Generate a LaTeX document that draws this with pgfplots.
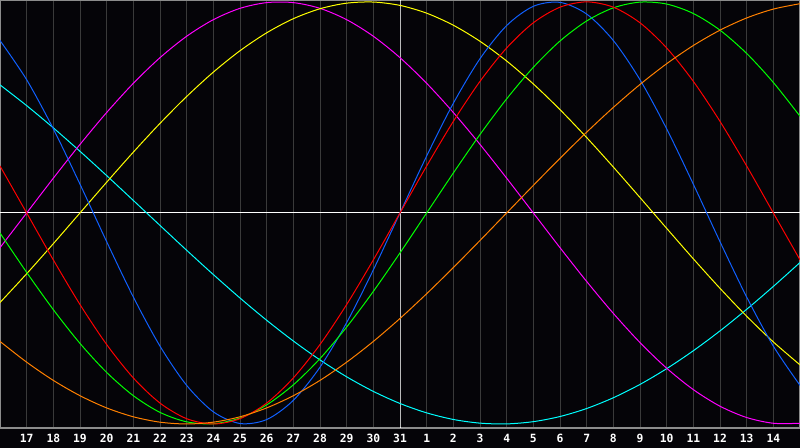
\documentclass[border=0pt]{standalone}
\usepackage{fontspec}
\setmonofont{DejaVu Sans Mono}
\usepackage{pgfplots}
\usepackage{pgfplotstable}
\pgfplotsset{compat=1.18}
\definecolor{bgc}{RGB}{5,4,8}
\definecolor{gridc}{RGB}{58,58,58}
\definecolor{borderc}{RGB}{140,140,140}
\definecolor{cblue}{RGB}{16,96,255}
\definecolor{cred}{RGB}{255,0,0}
\definecolor{cgreen}{RGB}{0,255,0}
\definecolor{cmag}{RGB}{255,0,255}
\definecolor{cyel}{RGB}{255,255,0}
\definecolor{corange}{RGB}{255,128,0}
\definecolor{ccyan}{RGB}{0,255,255}
\pgfplotstableread{
i  blue    red     green   mag     yel     orange  cyan
0  0.8170  0.2225 -0.0951 -0.1646 -0.4245 -0.6088  0.6068
1  0.6311  0.0000 -0.2817  0.0000 -0.2881 -0.7071  0.5085
2  0.3984 -0.2225 -0.4582  0.1646 -0.1456 -0.7934  0.4031
3  0.1362 -0.4339 -0.6182  0.3247  0.0000 -0.8660  0.2920
4 -0.1362 -0.6235 -0.7557  0.4759  0.1456 -0.9239  0.1769
5 -0.3984 -0.7818 -0.8660  0.6142  0.2881 -0.9659  0.0592
6 -0.6311 -0.9010 -0.9450  0.7357  0.4245 -0.9914 -0.0592
7 -0.8170 -0.9749 -0.9898  0.8372  0.5517 -1.0000 -0.1769
8 -0.9423 -1.0000 -0.9989  0.9158  0.6672 -0.9914 -0.2920
9 -0.9977 -0.9749 -0.9718  0.9694  0.7686 -0.9659 -0.4031
10 -0.9791 -0.9010 -0.9096  0.9966  0.8535 -0.9239 -0.5085
11 -0.8879 -0.7818 -0.8146  0.9966  0.9204 -0.8660 -0.6068
12 -0.7308 -0.6235 -0.6901  0.9694  0.9675 -0.7934 -0.6965
13 -0.5196 -0.4339 -0.5406  0.9158  0.9940 -0.7071 -0.7765
14 -0.2698 -0.2225 -0.3717  0.8372  0.9993 -0.6088 -0.8456
15  0.0000  0.0000 -0.1893  0.7357  0.9834 -0.5000 -0.9028
16  0.2698  0.2225  0.0000  0.6142  0.9465 -0.3827 -0.9473
17  0.5196  0.4339  0.1893  0.4759  0.8894 -0.2588 -0.9786
18  0.7308  0.6235  0.3717  0.3247  0.8133 -0.1305 -0.9960
19  0.8879  0.7818  0.5406  0.1646  0.7199  0.0000 -0.9996
20  0.9791  0.9010  0.6901  0.0000  0.6112  0.1305 -0.9890
21  0.9977  0.9749  0.8146 -0.1646  0.4894  0.2588 -0.9646
22  0.9423  1.0000  0.9096 -0.3247  0.3572  0.3827 -0.9267
23  0.8170  0.9749  0.9718 -0.4759  0.2174  0.5000 -0.8757
24  0.6311  0.9010  0.9989 -0.6142  0.0730  0.6088 -0.8125
25  0.3984  0.7818  0.9898 -0.7357 -0.0730  0.7071 -0.7378
26  0.1362  0.6235  0.9450 -0.8372 -0.2174  0.7934 -0.6529
27 -0.1362  0.4339  0.8660 -0.9158 -0.3572  0.8660 -0.5589
28 -0.3984  0.2225  0.7557 -0.9694 -0.4894  0.9239 -0.4567
29 -0.6311  0.0000  0.6182 -0.9966 -0.6112  0.9659 -0.3482
30 -0.8170 -0.2225  0.4582 -0.9966 -0.7199  0.9914 -0.2349
}\bio
\begin{document}
\begin{tikzpicture}
\fill[bgc] (0,-15pt) rectangle (600pt,321pt);
\path[use as bounding box] (0,-15pt) rectangle (600pt,321pt);
\begin{axis}[
  at={(0,0)}, anchor=south west,
  scale only axis, width=600pt, height=321pt,
  xmin=0, xmax=30, ymin=-1.019, ymax=1.009,
  axis line style={draw=borderc, line width=1.2pt},
  xtick={1,...,29},
  xticklabels={17,18,19,20,21,22,23,24,25,26,27,28,29,30,31,1,2,3,4,5,6,7,8,9,10,11,12,13,14},
  ytick=\empty,
  major tick length=0pt,
  xmajorgrids,
  major grid style={draw=gridc, line width=0.75pt},
  xticklabel style={text=white, font=\ttfamily\bfseries\fontsize{8.5}{10}\selectfont, anchor=base, yshift=-11.2pt, inner sep=0pt},
  /pgf/number format/assume math mode=true,
  every axis plot/.append style={line width=0.75pt, smooth, no markers},
  clip=true,
]
\addplot[white] coordinates {(0,0) (30,0)};
\addplot[white] coordinates {(15,-1.019) (15,1.009)};
\addplot[ccyan] table[x=i,y=cyan] {\bio};
\addplot[cmag] table[x=i,y=mag] {\bio};
\addplot[cyel] table[x=i,y=yel] {\bio};
\addplot[cblue] table[x=i,y=blue] {\bio};
\addplot[cgreen] table[x=i,y=green] {\bio};
\addplot[cred] table[x=i,y=red] {\bio};
\addplot[corange] table[x=i,y=orange] {\bio};
\end{axis}
\end{tikzpicture}
\end{document}
